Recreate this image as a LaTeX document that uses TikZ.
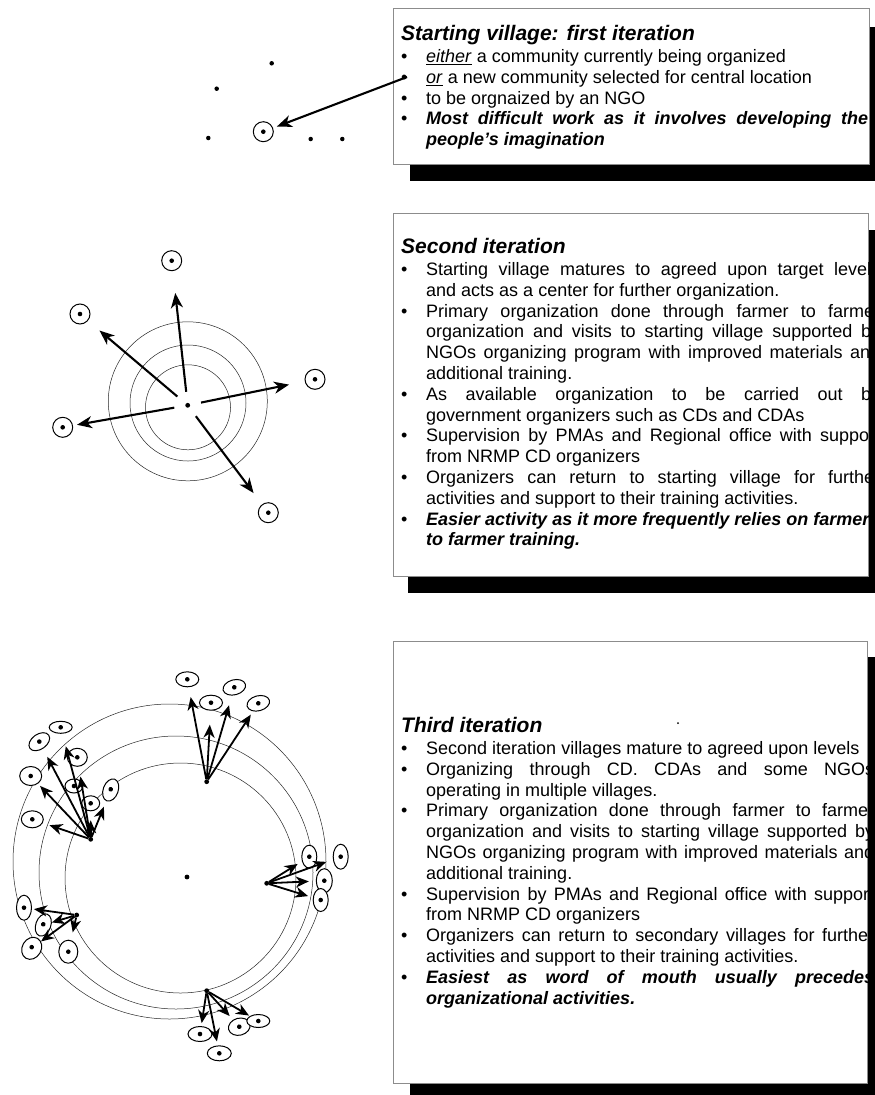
\documentclass[tikz,border=0pt]{standalone}
\usepackage{fontspec}
\setmainfont{Liberation Sans}
\usetikzlibrary{arrows.meta,shapes.geometric}
\tolerance=10000
\hbadness=10000
\tikzset{
  every node/.style={text=black},
  panel/.style={draw=black!45,line width=0.7pt,fill=white},
  shadow/.style={fill=black},
  ring/.style={draw=black!85,line width=0.5pt},
  hub/.style={circle,fill=black,inner sep=0pt,minimum size=4.8pt},
  spot/.style={circle,fill=black,inner sep=0pt,minimum size=4.5pt},
  pip/.style={path picture={\fill[black] (path picture bounding box.center) circle (2.3pt);}},
  village/.style={circle,draw=black,line width=1pt,fill=white,inner sep=0pt,minimum size=20pt,pip},
  hvil/.style={ellipse,draw=black,line width=1pt,fill=white,inner sep=0pt,minimum width=23pt,minimum height=15pt,pip},
  vvil/.style={hvil,minimum width=15pt,minimum height=23pt},
  spread/.style={-{Stealth[length=15pt,width=12pt,inset=4.5pt]},line width=2.1pt,shorten <=11pt},
  fan/.style={-{Stealth[length=13pt,width=11pt,inset=4pt]},line width=1.8pt},
  notes/.style={anchor=base west,inner sep=0pt,text width=#1,align=justify,
    font=\fontsize{18}{20.8}\selectfont},
}
\newcommand{\heading}[1]{{\fontsize{21}{22.5}\selectfont\bfseries\itshape #1\par}\vspace{1.7pt}}
\newcommand{\bul}{\par\noindent\hangindent=25pt\hangafter=1\makebox[25pt][l]{\textbullet}}

\begin{document}
\begin{tikzpicture}[x=1pt,y=-1pt]
\useasboundingbox (0,0) rectangle (875,1095);

% first iteration
\fill[shadow] (410,27) rectangle (875,181);
\draw[panel] (393,8) rectangle (869,164);
\node[notes=467pt] (first) at (401,40)
{\heading{Starting village: first iteration}
\bul \underline{\textit{either}} a community currently being organized
\bul \underline{\textit{or}} a new community selected for central location
\bul to be orgnaized by an NGO
\bul \textbf{\textit{Most difficult work as it involves developing the\linebreak people's imagination}}\par};

\node[spot] (s1) at (271.7,63.3) {};
\node[spot] (s2) at (216.7,88.7) {};
\node[spot] (s3) at (208.3,138) {};
\node[spot] (s4) at (310.7,139) {};
\node[spot] (s5) at (342.3,139) {};
\node[village] (start) at (263.3,131.7) {};
\coordinate (tail) at (407,77);
\draw[spread,shorten <=0pt,shorten >=4pt] (tail) -- (start);

% second iteration
\fill[shadow] (408,230) rectangle (875,593);
\draw[panel] (393,213) rectangle (868,576);
\node[notes=479pt] (second) at (401,253)
{\heading{Second iteration}
\bul Starting village matures to agreed upon target levels\linebreak and acts as a center for further organization.
\bul Primary organization done through farmer to farmer\linebreak organization and visits to starting village supported by\linebreak NGOs organizing program with improved materials and\linebreak additional training.
\bul As available organization to be carried out by\linebreak government organizers such as CDs and CDAs
\bul Supervision by PMAs and Regional office with support\linebreak from NRMP CD organizers
\bul Organizers can return to starting village for further\linebreak activities and support to their training activities.
\bul \textbf{\textit{Easier activity as it more frequently relies on farmer\newline to farmer training.}}\par};

\draw[ring] (187.8,401.3) circle[radius=79.5];
\draw[ring] (188,403) circle[radius=58];
\draw[ring] (188,407.3) circle[radius=42.5];
\node[hub] (core) at (187.7,405.3) {};
\node[village] (up) at (171.7,260.7) {};
\node[village] (upleft) at (80,314) {};
\node[village] (right) at (315,379.3) {};
\node[village] (left) at (62.7,427.3) {};
\node[village] (down) at (268.3,512.7) {};
\foreach \v/\s in {up/22pt,upleft/15pt,right/16pt,left/4pt,down/14pt}
  \draw[spread,shorten >=\s] (core) -- (\v);

% third iteration
\fill[shadow] (410,657) rectangle (875,1095);
\draw[panel] (393,641) rectangle (867,1083);
\node[notes=473pt] (third) at (401,732)
{\heading{Third iteration}
\bul Second iteration villages mature to agreed upon levels
\bul Organizing through CD. CDAs and some NGOs\linebreak operating in multiple villages.
\bul Primary organization done through farmer to farmer\linebreak organization and visits to starting village supported by\linebreak NGOs organizing program with improved materials and\linebreak additional training.
\bul Supervision by PMAs and Regional office with support\linebreak from NRMP CD organizers
\bul Organizers can return to secondary villages for further\linebreak activities and support to their training activities.
\bul \textbf{\textit{Easiest as word of mouth usually precedes\linebreak organizational activities.}}\par};
\fill (678,723) circle (1pt);

\draw[ring] (169.5,861.5) ellipse[x radius=156.5,y radius=157.5];
\draw[ring] (176,872.5) ellipse[x radius=137,y radius=136.5];
\draw[ring] (180.5,878) ellipse[x radius=115.5,y radius=115];
\node[hub] (core3) at (187,877) {};
\node[hub] (hubA) at (206.7,781.7) {};
\node[hub] (hubB) at (90.7,839.3) {};
\node[hub] (hubC) at (266.7,883.3) {};
\node[hub] (hubD) at (76.7,915) {};
\node[hub] (hubE) at (206.7,990.7) {};

% villages reached from the second ring
\node[hvil] (a1) at (187.3,679.3) {};
\node[hvil] (a2) at (211,702.7) {};
\node[hvil,rotate=15] (a3) at (234.3,687.3) {};
\node[hvil,rotate=15] (a4) at (258.3,703.3) {};
\node[hvil,minimum height=12pt] (b1) at (60.7,727.3) {};
\node[hvil,rotate=35] (b2) at (39.3,741.7) {};
\node[hvil,minimum width=18pt,minimum height=14pt] (b8) at (74,786) {};
\node[hvil,minimum width=20pt,minimum height=18pt] (b3) at (77.3,757.3) {};
\node[hvil,minimum width=22pt,minimum height=19pt] (b4) at (30.7,776) {};
\node[vvil,rotate=-20] (b5) at (110.7,790) {};
\node[hvil,minimum width=18pt] (b6) at (90.7,803.3) {};
\node[hvil,minimum width=22pt,minimum height=17pt] (b7) at (32.3,819.3) {};
\node[vvil] (c1) at (309.3,856.7) {};
\node[vvil,minimum height=25pt] (c2) at (340.7,856.7) {};
\node[vvil,minimum width=16pt,minimum height=24pt] (c3) at (324.3,880.7) {};
\node[vvil] (c4) at (320.7,900) {};
\node[vvil,minimum height=25pt] (d1) at (24,907.7) {};
\node[vvil,rotate=-20] (d2) at (43.3,925) {};
\node[vvil,minimum width=19pt,rotate=-30] (d3) at (31.7,948.3) {};
\node[vvil,minimum width=19pt] (d4) at (68.3,951.7) {};
\node[hvil,minimum width=24pt] (e1) at (200,1034) {};
\node[hvil,minimum width=22pt,minimum height=17pt,rotate=15] (e2) at (239.3,1026.7) {};
\node[hvil,minimum height=13pt] (e3) at (258.3,1021) {};
\node[hvil,minimum width=24pt] (e4) at (219.3,1053.3) {};

\foreach \v/\s in {a1/10pt,a2/14pt,a3/10pt,a4/4pt}
  \draw[fan,shorten >=\s] (hubA) -- (\v);
\foreach \v/\s in {b1/13pt,b2/9pt,b3/10pt,b4/3pt,b5/6pt,b6/9pt,b7/7pt}
  \draw[fan,shorten >=\s] (hubB) -- (\v);
\foreach \v/\s in {c1/5pt,c2/7pt,c3/7pt,c4/5pt}
  \draw[fan,shorten >=\s] (hubC) -- (\v);
\foreach \v/\s in {d1/2pt,d2/0pt,d3/0pt,d4/8pt}
  \draw[fan,shorten >=\s] (hubD) -- (\v);
\foreach \v/\s in {e1/3pt,e2/5pt,e3/1pt,e4/4pt}
  \draw[fan,shorten >=\s] (hubE) -- (\v);

\end{tikzpicture}
\end{document}
